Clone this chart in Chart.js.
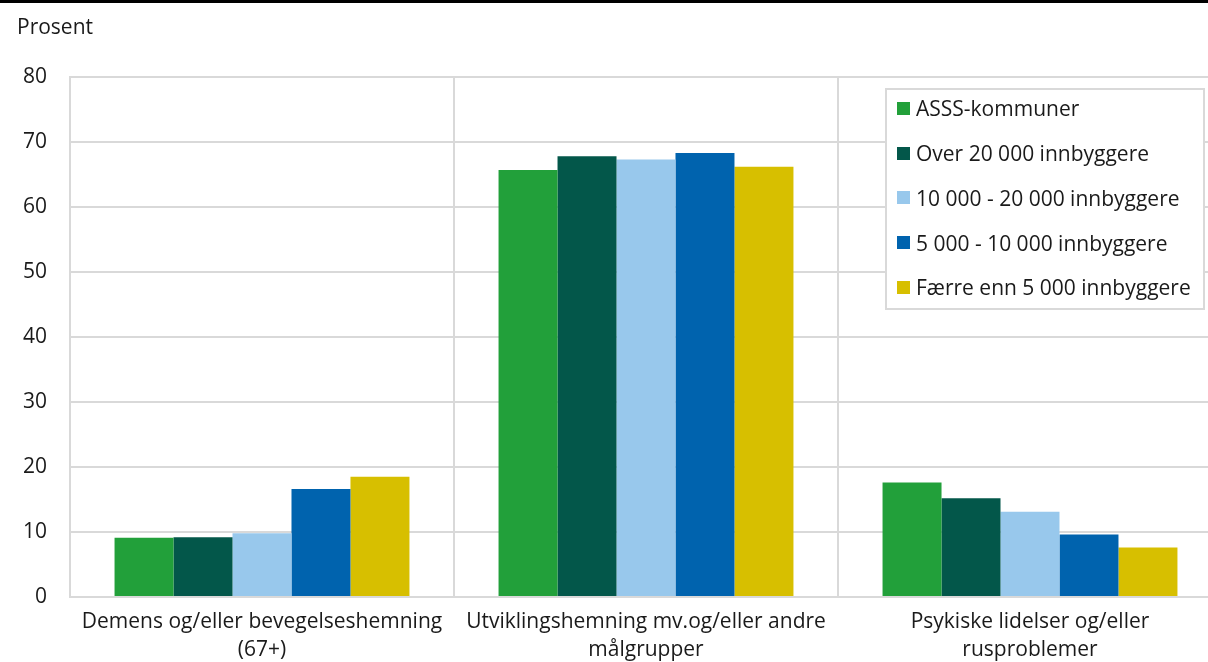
<!DOCTYPE html>
<html>
<head>
<meta charset="utf-8">
<script src="https://cdn.jsdelivr.net/npm/chart.js@4"></script>
<style>
  html, body { margin: 0; padding: 0; background: #fff; overflow: hidden; }
  #wrap { position: relative; width: 1208px; height: 662px; overflow: hidden; }
  #chart { position: absolute; left: 0; top: 0; }
  #legend {
    position: absolute; left: 885px; top: 88px; width: 320px; height: 222px;
    border: 2px solid #d9d9d9; background: #fff; box-sizing: border-box;
    font-family: "Open Sans", sans-serif; font-size: 21px; color: #1a1a1a;
  }
  #legend div { height: 44.75px; display: flex; align-items: center; padding-left: 10px; position: relative; top: -4px; white-space: nowrap; }
  #legend span.sw { display: inline-block; width: 13px; height: 13px; margin-right: 6px; }
</style>
</head>
<body>
<div id="wrap">
  <canvas id="chart" width="1224" height="662"></canvas>
  <div id="legend"></div>
</div>
<script>
const categories = [
  ["Demens og/eller bevegelseshemning", "(67+)"],
  ["Utviklingshemning mv.og/eller andre", "målgrupper"],
  ["Psykiske lidelser og/eller", "rusproblemer"]
];
const seriesNames = [
  "ASSS-kommuner",
  "Over 20 000 innbyggere",
  "10 000 - 20 000 innbyggere",
  "5 000 - 10 000 innbyggere",
  "Færre enn 5 000 innbyggere"
];
const seriesColors = ["#22a03a", "#03574a", "#98c8ec", "#0063ae", "#d7bf00"];
const asss = [9.1, 65.7, 17.6];
const over20k = [9.2, 67.8, 15.2];
const from10kTo20k = [9.8, 67.3, 13.1];
const from5kTo10k = [16.6, 68.3, 9.6];
const under5k = [18.5, 66.2, 7.6];
const yTicks = [0, 10, 20, 30, 40, 50, 60, 70, 80];

const seriesValues = [asss, over20k, from10kTo20k, from5kTo10k, under5k];
const font = "'Open Sans', sans-serif";

const topDecor = {
  id: "topDecor",
  afterDraw(chart) {
    const ctx = chart.ctx;
    ctx.save();
    ctx.fillStyle = "#000";
    ctx.fillRect(0, 0, chart.width, 3);
    ctx.fillStyle = "#1a1a1a";
    ctx.font = "21px " + font;
    ctx.textBaseline = "middle";
    ctx.fillText("Prosent", 17, 28);
    ctx.restore();
  }
};

new Chart(document.getElementById("chart"), {
  type: "bar",
  data: {
    labels: categories,
    datasets: seriesValues.map((vals, i) => ({
      label: seriesNames[i],
      data: vals,
      backgroundColor: seriesColors[i],
      borderWidth: 0,
      barPercentage: 1,
      categoryPercentage: 0.768
    }))
  },
  options: {
    responsive: false,
    animation: false,
    layout: { padding: { top: 77, right: 2, left: 0, bottom: 0 } },
    plugins: { legend: { display: false }, tooltip: { enabled: false } },
    scales: {
      x: {
        grid: { color: "#d9d9d9", lineWidth: 2, drawTicks: false, offset: true },
        border: { color: "#d9d9d9", width: 2 },
        afterFit(scale) { scale.height = 65; },
        ticks: {
          color: "#1a1a1a",
          font: { family: font, size: 21, lineHeight: 1.33 },
          padding: 11,
          maxRotation: 0,
          autoSkip: false
        }
      },
      y: {
        min: 0,
        max: 80,
        afterBuildTicks(scale) { scale.ticks = yTicks.map((v) => ({ value: v })); },
        afterFit(scale) { scale.width = 70; },
        grid: { color: "#d9d9d9", lineWidth: 2, drawTicks: false },
        border: { color: "#d9d9d9", width: 2 },
        ticks: { color: "#1a1a1a", font: { family: font, size: 21 }, padding: 23 }
      }
    }
  },
  plugins: [topDecor]
});

const legend = document.getElementById("legend");
seriesNames.forEach((name, i) => {
  const row = document.createElement("div");
  row.innerHTML = `<span class="sw" style="background:${seriesColors[i]}"></span>${name}`;
  legend.appendChild(row);
});
</script>
</body>
</html>
